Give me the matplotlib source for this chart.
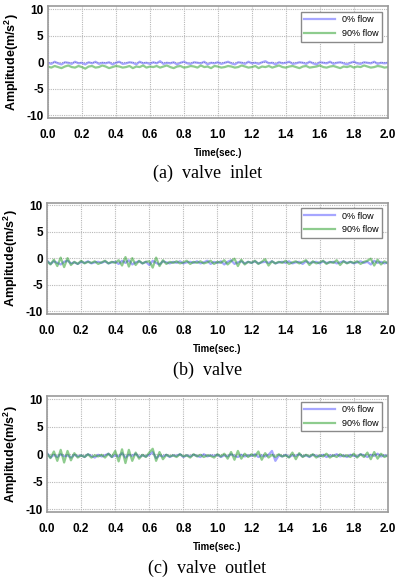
import matplotlib
matplotlib.use("Agg")
import matplotlib.pyplot as plt
import numpy as np

# time axis: 0 .. 2.0 s, 101 samples
time_s = np.linspace(0.0, 2.0, 101)

series_labels = ["0% flow", "90% flow"]
captions = ["(a)  valve  inlet", "(b)  valve", "(c)  valve  outlet"]
xticks = [0.0, 0.2, 0.4, 0.6, 0.8, 1.0, 1.2, 1.4, 1.6, 1.8, 2.0]
yticks = [-10, -5, 0, 5, 10]

# (a) valve inlet
a_flow0 = [
    -0.1, -0.3, 0.1, -0.2, -0.4, 0.0, -0.1, -0.3, 0.1, -0.2,
    -0.1, -0.4, 0.0, -0.2, 0.1, -0.3, -0.1, -0.2, 0.0, -0.4,
    -0.1, 0.1, -0.3, -0.2, 0.0, -0.1, -0.4, 0.1, -0.2, -0.1,
    -0.3, 0.0, -0.2, 0.2, -0.3, -0.1, -0.2, 0.0, -0.4, -0.1,
    0.1, -0.2, -0.3, 0.0, -0.1, -0.2, 0.1, -0.4, -0.1, -0.2,
    0.0, -0.3, -0.1, 0.1, -0.2, -0.4, 0.0, -0.1, -0.3, 0.1,
    -0.2, -0.1, -0.3, 0.0, 0.2, -0.2, -0.1, -0.4, 0.0, -0.2,
    -0.1, 0.1, -0.3, -0.2, 0.0, -0.1, -0.3, 0.1, -0.2, -0.4,
    0.0, -0.1, -0.2, 0.1, -0.3, -0.1, 0.0, -0.2, -0.4, -0.1,
    0.1, -0.2, -0.3, 0.0, -0.1, -0.2, 0.1, -0.3, -0.1, -0.2, -0.1]
a_flow90 = [
    -0.8, -1.0, -0.7, -0.9, -1.1, -0.8, -0.6, -0.9, -1.0, -0.7,
    -0.9, -1.2, -0.8, -0.7, -1.0, -0.9, -0.6, -0.8, -1.1, -0.9,
    -0.7, -0.8, -1.0, -0.9, -0.7, -1.1, -0.8, -0.9, -0.6, -1.0,
    -0.8, -0.9, -0.7, -1.0, -0.8, -0.6, -0.9, -1.1, -0.8, -0.7,
    -1.0, -0.9, -0.7, -0.8, -1.0, -0.6, -0.9, -0.8, -1.1, -0.7,
    -0.8, -1.0, -0.9, -0.7, -0.8, -1.0, -0.9, -0.6, -0.8, -1.0,
    -0.9, -0.7, -1.1, -0.8, -0.9, -0.7, -1.0, -0.8, -0.6, -0.9,
    -1.0, -0.8, -0.7, -0.9, -1.1, -0.8, -0.7, -1.0, -0.9, -0.8,
    -0.6, -0.9, -1.0, -0.8, -0.7, -0.9, -1.1, -0.8, -0.9, -0.7,
    -1.0, -0.8, -0.9, -0.6, -0.8, -1.0, -0.9, -0.7, -0.8, -1.0, -0.9]

# (b) valve
b_flow0 = [
    -0.5, -1.1, -0.6, -0.9, -1.2, -0.7, -0.5, -1.0, -0.8, -1.1,
    -0.7, -0.9, -0.6, -1.0, -0.8, -0.7, -0.9, -0.6, -1.0, -0.8,
    -0.7, -1.1, -0.5, -0.9, -0.4, -1.2, -0.8, -0.6, -1.0, -0.7,
    -1.3, -0.5, -0.9, -1.2, -0.6, -0.8, -1.0, -0.7, -0.9, -0.6,
    -1.0, -0.8, -0.7, -0.9, -0.6, -1.0, -0.8, -0.5, -1.1, -0.7,
    -0.9, -0.6, -1.2, -0.7, -0.4, -1.1, -0.8, -0.6, -1.0, -0.7,
    -0.9, -0.6, -1.0, -0.8, -0.7, -0.9, -0.6, -1.0, -0.8, -0.7,
    -0.9, -0.6, -1.0, -0.8, -0.7, -1.1, -0.6, -0.9, -0.8, -0.7,
    -1.0, -0.6, -0.9, -0.8, -0.7, -1.0, -0.8, -0.6, -0.9, -0.7,
    -1.0, -0.8, -0.6, -0.9, -0.7, -1.2, -0.5, -0.9, -0.7, -1.0, -0.8]
b_flow90 = [
    -0.6, -1.2, -0.3, -1.5, 0.1, -1.7, 0.0, -1.3, -0.7, -1.1,
    -0.5, -1.0, -0.7, -0.9, -0.6, -1.1, -0.8, -0.5, -1.0, -0.7,
    -0.9, -0.4, -1.4, 0.2, -1.6, 0.0, -1.3, -0.5, -1.0, -0.7,
    -0.6, -1.8, 0.1, -1.5, -0.4, -1.1, -0.7, -0.9, -0.6, -1.0,
    -0.8, -0.5, -1.1, -0.7, -0.9, -0.6, -1.0, -0.8, -0.5, -1.1,
    -0.7, -0.9, -0.4, -1.2, -0.6, -0.1, -1.5, -0.3, -1.2, -0.7,
    -0.9, -0.5, -1.1, -0.7, -0.2, -1.4, -0.6, -1.0, -0.7, -0.9,
    -0.5, -1.1, -0.8, -0.6, -1.0, -0.7, -0.4, -1.3, -0.6, -1.0,
    -0.8, -0.5, -1.1, -0.7, -0.9, -0.4, -1.3, -0.6, -1.0, -0.7,
    -0.9, -0.6, -1.1, -0.7, -0.5, -0.1, -1.4, -0.3, -1.2, -0.6, -1.0]

# (c) valve outlet
c_flow0 = [
    0.2, -0.6, -0.1, -0.5, 0.0, -0.4, -0.2, -0.6, -0.1, -0.4,
    -0.2, -0.5, 0.0, -0.3, -0.6, -0.1, -0.4, -0.2, 0.1, -0.5,
    -0.2, -0.4, 0.2, -0.6, -0.1, -0.3, 0.1, -0.5, -0.2, -0.4,
    -0.1, 0.4, -0.7, -0.2, -0.4, -0.1, -0.5, -0.2, -0.3, 0.0,
    -0.5, -0.2, -0.4, -0.1, -0.3, -0.5, 0.0, -0.4, -0.2, -0.3,
    -0.1, -0.5, -0.2, -0.4, 0.0, -0.3, -0.5, -0.1, -0.4, -0.2,
    -0.3, 0.0, -0.5, -0.2, -0.4, -0.1, 0.6, -1.2, -0.2, -0.4,
    -0.1, -0.5, -0.2, -0.3, 0.0, -0.4, -0.2, -0.5, -0.1, -0.3,
    -0.4, -0.1, -0.5, -0.2, -0.3, 0.0, -0.4, -0.2, -0.5, -0.1,
    -0.3, -0.4, 0.0, -0.2, -0.5, -0.1, -0.3, 0.1, -0.4, -0.2, -0.3]
c_flow90 = [
    0.1, -0.7, 0.5, -1.2, 0.8, -1.5, 0.6, -1.1, 0.2, -0.6,
    -0.2, -0.5, 0.0, -0.6, -0.2, -0.4, -0.1, -0.6, 0.1, -0.5,
    0.6, -1.3, 0.9, -1.6, 0.8, -1.2, 0.3, -0.8, -0.1, -0.5,
    0.3, 1.0, -1.2, 0.4, -0.9, -0.1, -0.4, -0.2, -0.5, 0.0,
    -0.4, -0.2, -0.6, 0.0, -0.4, -0.1, -0.5, -0.2, -0.3, -0.6,
    0.0, -0.4, 0.1, -0.8, 0.4, -1.0, 0.6, -0.8, 0.1, -0.5,
    0.0, -0.4, 0.5, -1.0, 0.2, -0.6, -0.1, -0.5, 0.0, -0.4,
    -0.2, -0.6, 0.3, -0.9, 0.2, -0.5, -0.1, -0.4, 0.0, -0.6,
    -0.2, -0.4, 0.1, -0.6, -0.2, -0.5, 0.0, -0.4, -0.2, -0.5,
    0.1, -0.6, 0.0, -0.5, 0.3, -0.9, 0.4, -0.8, 0.1, -0.5, -0.2]

panels = [(a_flow0, a_flow90), (b_flow0, b_flow90), (c_flow0, c_flow90)]

# axes boxes [left, bottom, width, height] in figure fraction
boxes = [[0.120, 0.797, 0.852, 0.192],
         [0.118, 0.461, 0.854, 0.191],
         [0.118, 0.120, 0.854, 0.199]]
caption_y = [0.703, 0.364, 0.024]

plt.rcParams["font.family"] = ["Liberation Sans", "DejaVu Sans"]
plt.rcParams["mathtext.fontset"] = "custom"
plt.rcParams["mathtext.rm"] = "Liberation Sans:bold"
plt.rcParams["mathtext.default"] = "rm"

fig = plt.figure(figsize=(3.99, 5.82), dpi=100)

for i, (flow0, flow90) in enumerate(panels):
    ax = fig.add_axes(boxes[i])
    ax.plot(time_s, flow0, color="#3a3aff", alpha=0.45, linewidth=1.6, label=series_labels[0])
    ax.plot(time_s, flow90, color="#1f9a1f", alpha=0.5, linewidth=1.6, label=series_labels[1])

    ax.set_xlim(0, 2.0)
    ax.set_ylim(-10.5, 10.5)
    ax.set_xticks(xticks)
    ax.set_xticklabels([f"{t:.1f}" for t in xticks], fontweight="bold", fontsize=8.5)
    ax.set_yticks(yticks)
    ax.set_yticklabels([str(v) for v in yticks], fontweight="bold", fontsize=8.5)
    ax.tick_params(axis="x", length=0, pad=8)
    ax.tick_params(axis="y", length=0, pad=3)
    ax.grid(True, color="#b8b8b8", linestyle=(0, (1, 1)), linewidth=0.8)
    for sp in ax.spines.values():
        sp.set_color("#9a9a9a")
        sp.set_linewidth(1.2)

    ax.set_xlabel("Time(sec.)", fontweight="bold", fontsize=7, labelpad=5)
    ax.set_ylabel("Amplitude(m/s$^2$)", fontweight="bold", fontsize=9)
    ax.yaxis.set_label_coords(-0.08, 0.5)

    leg = ax.legend(loc="upper right", fontsize=6.5, handlelength=3.4,
                    borderaxespad=0.6, fancybox=False, framealpha=1)
    leg.get_frame().set_edgecolor("#8a8a8a")
    leg.get_frame().set_linewidth(1.0)

    fig.text(0.52, caption_y[i], captions[i], ha="center", va="center",
             family="Liberation Serif", fontsize=13)

fig.savefig("out.png", dpi=100)
